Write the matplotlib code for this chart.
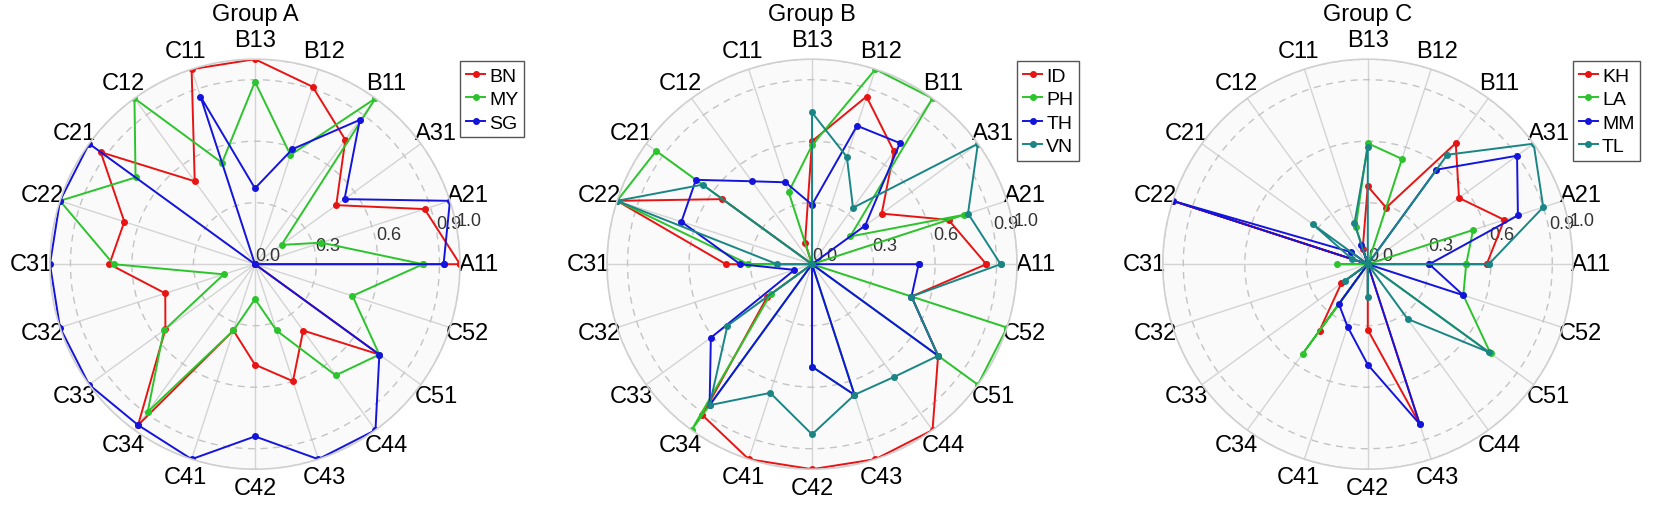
import numpy as np
import matplotlib
matplotlib.use('Agg')
import matplotlib.pyplot as plt

plt.rcParams['font.family'] = ['Liberation Sans', 'DejaVu Sans']

# Kategorier (moturs från höger)
categories = ['A11', 'A21', 'A31', 'B11', 'B12', 'B13', 'C11', 'C12', 'C21', 'C22',
              'C31', 'C32', 'C33', 'C34', 'C41', 'C42', 'C43', 'C44', 'C51', 'C52']

# Group A
BN = [1.0, 0.87, 0.49, 0.75, 0.91, 1.0, 1.0, 0.50, 0.93, 0.67,
      0.71, 0.46, 0.54, 0.97, 0.34, 0.49, 0.60, 0.40, 0.75, 0.0]
MY = [0.82, 0.34, 0.16, 1.0, 0.56, 0.89, 0.52, 1.0, 0.72, 1.0,
      0.69, 0.16, 0.55, 0.89, 0.34, 0.17, 0.34, 0.67, 0.75, 0.50]
SG = [0.92, 1.0, 0.54, 0.87, 0.59, 0.37, 0.86, 0.0, 1.0, 1.0,
      1.0, 1.0, 1.0, 0.97, 1.0, 0.84, 1.0, 1.0, 0.75, 0.0]

# Group B
ID = [0.85, 0.70, 0.42, 0.68, 0.86, 0.60, 0.11, 0.0, 0.54, 1.0,
      0.42, 0.0, 0.27, 0.91, 1.0, 1.0, 1.0, 1.0, 0.76, 0.51]
PH = [0.0, 0.78, 0.23, 1.0, 1.0, 0.58, 0.37, 0.0, 0.94, 1.0,
      0.31, 0.0, 0.25, 1.0, 0.0, 0.50, 0.67, 0.0, 1.0, 1.0]
TH = [0.52, 0.0, 0.32, 0.73, 0.71, 0.29, 0.42, 0.50, 0.70, 0.67,
      0.35, 0.09, 0.61, 0.85, 0.0, 0.50, 0.67, 0.0, 0.76, 0.51]
VN = [0.92, 0.80, 1.0, 0.34, 0.55, 0.74, 0.0, 0.0, 0.66, 1.0,
      0.17, 0.0, 0.51, 0.85, 0.66, 0.83, 0.67, 0.68, 0.76, 0.51]

# Group C
KH = [0.58, 0.70, 0.55, 0.73, 0.29, 0.38, 0.08, 0.0, 0.0, 1.0,
      0.0, 0.0, 0.16, 0.40, 0.0, 0.32, 0.82, 0.0, 0.0, 0.0]
LA = [0.48, 0.54, 0.0, 0.0, 0.54, 0.59, 0.19, 0.0, 0.0, 0.0,
      0.15, 0.0, 0.0, 0.54, 0.0, 0.0, 0.0, 0.0, 0.74, 0.49]
MM = [0.30, 0.77, 0.90, 0.57, 0.0, 0.0, 0.10, 0.0, 0.10, 1.0,
      0.0, 0.0, 0.0, 0.24, 0.32, 0.49, 0.82, 0.0, 0.0, 0.49]
TL = [0.59, 0.90, 1.0, 0.66, 0.0, 0.57, 0.21, 0.0, 0.33, 0.08,
      0.0, 0.0, 0.14, 0.0, 0.0, 0.16, 0.0, 0.33, 0.73, 0.0]

groups = [
    ('Group A', [('BN', BN), ('MY', MY), ('SG', SG)]),
    ('Group B', [('ID', ID), ('PH', PH), ('TH', TH), ('VN', VN)]),
    ('Group C', [('KH', KH), ('LA', LA), ('MM', MM), ('TL', TL)]),
]
colors = ['#e81414', '#2cc42c', '#1414dc', '#1a8585']

r_ticks = [0.0, 0.3, 0.6, 0.9, 1.0]
angles = np.linspace(0, 2 * np.pi, len(categories), endpoint=False)
angles_closed = np.concatenate([angles, angles[:1]])

fig = plt.figure(figsize=(16.54, 5.10), dpi=100)
lefts = [0.0302, 0.367, 0.703]

for left, (title, series) in zip(lefts, groups):
    ax = fig.add_axes([left, 0.078, 0.2479, 0.804], projection='polar')
    ax.set_facecolor('#fafafa')
    for (name, vals), col in zip(series, colors):
        v = np.concatenate([vals, vals[:1]])
        ax.plot(angles_closed, v, color=col, lw=1.4, marker='o', ms=4, label=name)
    ax.set_ylim(0, 1.0)
    ax.set_xticks(angles)
    ax.set_xticklabels(categories, fontsize=17)
    ax.tick_params(axis='x', pad=3)
    ax.set_yticks(r_ticks)
    ax.set_yticklabels([f'{t:.1f}' for t in r_ticks], fontsize=13, color='#333333')
    ax.set_rlabel_position(10)
    ax.xaxis.grid(True, color='#d4d4d4', lw=1.0, ls='-')
    ax.yaxis.grid(True, color='#c4c4c4', lw=1.0, ls=(0, (5, 4)))
    ax.spines['polar'].set_color('#d0d0d0')
    ax.spines['polar'].set_linewidth(1.2)
    ax.set_title(title, fontsize=17, y=1.095, pad=0)
    ax.legend(loc='upper left', bbox_to_anchor=(1.0, 0.995), fontsize=14,
              handlelength=1.0, handletextpad=0.2, borderpad=0.3,
              labelspacing=0.3, borderaxespad=0.0, fancybox=False,
              edgecolor='#555555', framealpha=1.0)

fig.savefig('out.png', dpi=100)
